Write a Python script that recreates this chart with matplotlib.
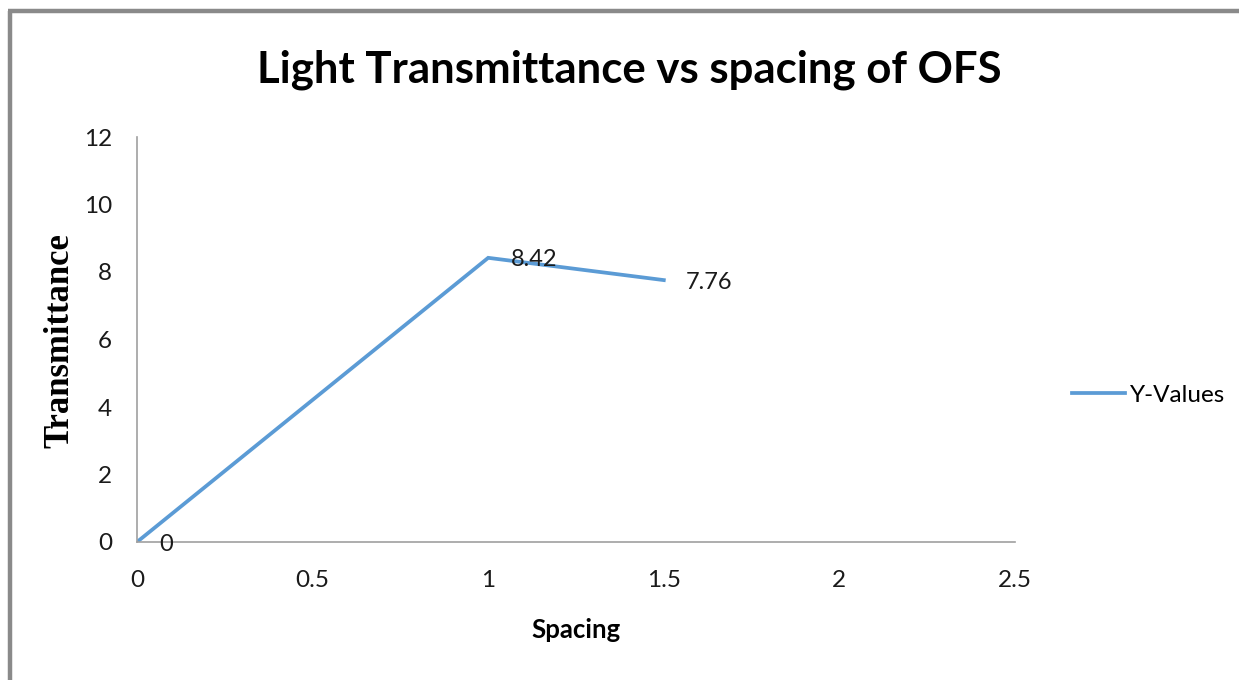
import matplotlib
matplotlib.use('Agg')
import matplotlib.pyplot as plt
from matplotlib.lines import Line2D

spacing = [0, 1, 1.5]
transmittance = [0, 8.42, 7.76]
point_labels = ['0', '8.42', '7.76']
x_ticks = [0, 0.5, 1, 1.5, 2, 2.5]
y_ticks = [0, 2, 4, 6, 8, 10, 12]

sans = ['Lato', 'DejaVu Sans']
blue = '#5B9BD5'
W, H = 1239, 680

fig = plt.figure(figsize=(W / 100, H / 100), dpi=100)
ax = fig.add_axes([137 / W, 1 - 542 / H, (1015 - 137) / W, (542 - 137) / H])

ax.plot(spacing, transmittance, color=blue, lw=2.7, label='Y-Values',
        solid_joinstyle='miter')
for x, y, s in zip(spacing, transmittance, point_labels):
    ax.annotate(s, (x, y), xytext=(16, -1.5), textcoords='offset points',
                ha='left', va='center', fontsize=17, family=sans, color='#1a1a1a')

ax.set_xlim(0, 2.5)
ax.set_ylim(0, 12)
ax.set_xticks(x_ticks)
ax.set_xticklabels([f'{t:g}' for t in x_ticks])
ax.set_yticks(y_ticks)
ax.tick_params(length=0, labelsize=17.5, colors='#1a1a1a')
ax.tick_params(axis='x', pad=20)
ax.tick_params(axis='y', pad=18)
for lab in ax.get_xticklabels() + ax.get_yticklabels():
    lab.set_family(sans)
for side in ('top', 'right'):
    ax.spines[side].set_visible(False)
for side in ('left', 'bottom'):
    ax.spines[side].set_color('#a0a0a0')
    ax.spines[side].set_linewidth(1.2)

fig.text(629 / W, 1 - 70 / H, 'Light Transmittance vs spacing of OFS',
         ha='center', va='center', fontsize=31.5, fontweight='bold', family=sans)
fig.text(576 / W, 1 - 630 / H, 'Spacing', ha='center', va='center',
         fontsize=18.5, fontweight='bold', family=sans)
fig.text(60 / W, 1 - 341 / H, 'Transmittance', ha='center', va='center',
         rotation=90, fontsize=25, fontweight='bold', family='Liberation Serif')

leg = fig.legend(loc='center left', bbox_to_anchor=(1072 / W, 1 - 395 / H),
                 frameon=False, borderpad=0, borderaxespad=0,
                 handlelength=2.2, handletextpad=0.2,
                 prop={'family': sans, 'size': 17.5})

# grey frame on left and top edge, as in the original
fig.add_artist(Line2D([10 / W, 10 / W], [0, 1 - 11 / H], transform=fig.transFigure,
                      color='#8a8a8a', lw=3.2, solid_capstyle='butt'))
fig.add_artist(Line2D([8 / W, 1], [1 - 11 / H, 1 - 11 / H], transform=fig.transFigure,
                      color='#8a8a8a', lw=3.2, solid_capstyle='butt'))

fig.savefig('out.png', dpi=100)
